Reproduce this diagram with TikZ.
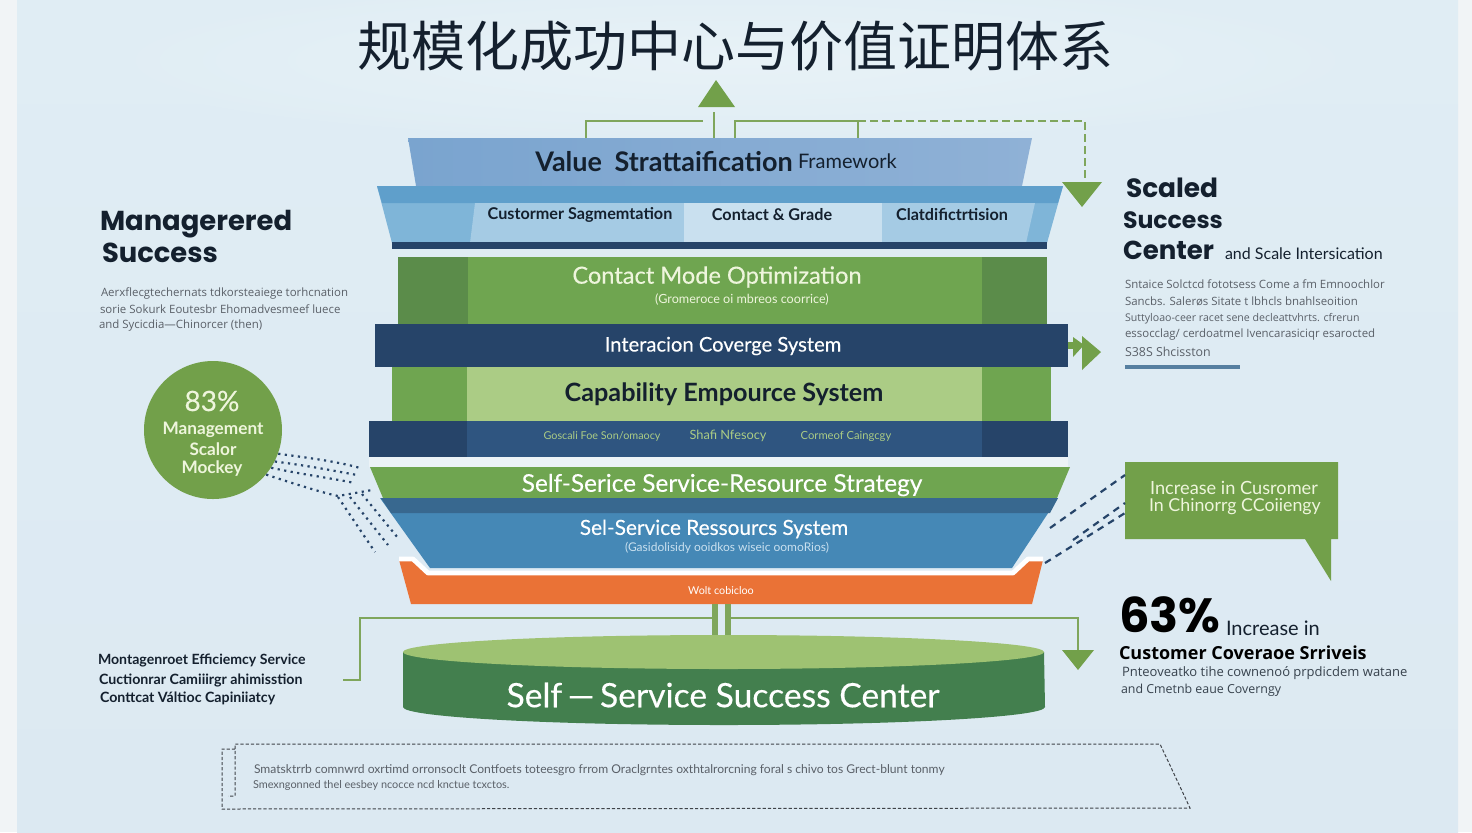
\documentclass[tikz,border=0pt]{standalone}
\usepackage{fontspec}
\setmainfont{Lato}
\newfontfamily\medf[FakeBold=0.3]{Lato}
\newfontfamily\cjk{Noto Sans CJK SC}
\newfontfamily\headf{Poppins}
\newfontfamily\bodyf{Open Sans}
\definecolor{bg}{HTML}{DCE9F2}
\definecolor{bgtop}{HTML}{E0EDF4}
\definecolor{blob}{HTML}{E8F2F7}
\definecolor{strip}{HTML}{F1F4F6}
\definecolor{leaf}{HTML}{72A04A}
\definecolor{leafb}{HTML}{6FA550}
\definecolor{leafd}{HTML}{5B8C4A}
\definecolor{leafl}{HTML}{ABCC85}
\definecolor{linegreen}{HTML}{7FA65C}
\definecolor{navy}{HTML}{264469}
\definecolor{navyb}{HTML}{2F5580}
\definecolor{bluem}{HTML}{4588B6}
\definecolor{blued}{HTML}{38688F}
\definecolor{bandb}{HTML}{5F9FCB}
\definecolor{pale}{HTML}{A5CBE4}
\definecolor{paler}{HTML}{C9E0EF}
\definecolor{side}{HTML}{7FB5D8}
\definecolor{valuel}{HTML}{7AA4CF}
\definecolor{valuer}{HTML}{8FB1D6}
\definecolor{orng}{HTML}{EA7236}
\definecolor{cyld}{HTML}{437F4E}
\definecolor{cylt}{HTML}{9EC272}
\definecolor{ink}{HTML}{14202E}
\definecolor{greytxt}{HTML}{5A6068}
\definecolor{cream}{HTML}{EEF5DC}
\definecolor{gapw}{HTML}{ECF3F7}
\tikzset{
  x=0.5pt,y=-0.5pt,
  lbl/.style={inner sep=0pt,outer sep=0pt,anchor=west,text=ink},
  clbl/.style={inner sep=0pt,outer sep=0pt,anchor=center,text=white},
  head/.style={lbl,font=\headf\bfseries\fontsize{13.7}{15}\selectfont},
  body/.style={lbl,text=greytxt,font=\bodyf\fontsize{5.72}{7}\selectfont},
  conn/.style={draw=linegreen,line width=1pt},
  tri/.style={fill=leaf,draw=none},
  dots/.style={draw=navy,line width=1.1pt,dash pattern=on 1.1pt off 2.2pt},
  dashtwo/.style={draw=navy,line width=1.1pt,dash pattern=on 3.4pt off 2.8pt},
}
\begin{document}
\begin{tikzpicture}
\useasboundingbox (0,0) rectangle (1472,832);
% background
\fill[strip] (0,0) rectangle (1472,832);
\shade[top color=bgtop,bottom color=bg] (17,0) rectangle (1458,832);
\shade[inner color=blob,outer color=bgtop] (735,60) ellipse[x radius=320pt,y radius=40pt];

% title
\node[clbl,text=ink,font=\cjk\fontsize{27}{27}\selectfont] (title) at (735,46) {规模化成功中心与价值证明体系};

% connectors at top
\coordinate (vl) at (586,138); \coordinate (vlt) at (586,121); \coordinate (vle) at (703,121);
\coordinate (vs) at (714,138); \coordinate (vst) at (714,112);
\coordinate (vr) at (735,138); \coordinate (vrt) at (735,121); \coordinate (vm) at (858,121); \coordinate (vmb) at (858,138);
\coordinate (vd) at (1085,121); \coordinate (vdb) at (1085,183);
\draw[conn] (vl) -- (vlt) -- (vle);
\draw[conn] (vs) -- (vst);
\draw[conn] (vr) -- (vrt) -- (vm) -- (vmb);
\draw[conn,dash pattern=on 4pt off 2pt] (vm) -- (vd) -- (vdb);
\fill[tri] (698,107) -- (716,80) -- (735,107) -- cycle;
\fill[tri] (1062,182) -- (1102,182) -- (1082,207) -- cycle;

% value layer
\shade[left color=valuel,right color=valuer] (408,138) -- (1032,138) -- (1022,186) -- (416,186) -- cycle;
\node[clbl,text=ink,font=\fontsize{13.5}{14}\selectfont\bfseries] (value) at (664,162) {Value\hspace{3pt} Strattaification};
\node[lbl,font=\fontsize{10}{11}\selectfont] (frame) at (798,161) {Framework};

% segmentation layer
\fill[side] (377,186) -- (1063,186) -- (1047,243) -- (392,243) -- cycle;
\fill[bandb] (377,186) -- (1063,186) -- (1058,203) -- (382,203) -- cycle;
\fill[pale] (475,203) -- (684,203) -- (684,243) -- (470,243) -- cycle;
\fill[paler] (684,203) -- (882,203) -- (882,243) -- (684,243) -- cycle;
\fill[pale] (882,203) -- (1035,203) -- (1026,243) -- (882,243) -- cycle;
\fill[navy] (392,242) rectangle (1047,249);
\node[clbl,text=ink,font=\fontsize{8.1}{9}\selectfont\bfseries] (seg1) at (580,215) {Custormer Sagmemtation};
\node[clbl,text=ink,font=\fontsize{8.1}{9}\selectfont\bfseries] (seg2) at (772,215) {Contact \& Grade};
\node[clbl,text=ink,font=\fontsize{8.1}{9}\selectfont\bfseries] (seg3) at (952,215) {Clatdifictrtision};

% contact layer
\fill[leafd] (398,257) rectangle (1047,324);
\fill[leafb] (468,257) rectangle (982,324);
\node[clbl,text=cream,font=\medf\fontsize{11.8}{12}\selectfont] (contact) at (717,277) {Contact Mode Optimization};
\node[clbl,text=cream,font=\fontsize{6.3}{7}\selectfont] (contactsub) at (742,300) {(Gromeroce oi mbreos coorrice)};

% interaction layer
\fill[navy] (375,324) rectangle (1068,367);
\node[clbl,font=\medf\fontsize{10.1}{11}\selectfont] (inter) at (723,346) {Interacion Coverge System};
\fill[tri] (1068,342) rectangle (1076,349);
\fill[tri] (1073,337) -- (1084,345) -- (1073,357) -- cycle;
\fill[tri] (1082,336) -- (1101,352) -- (1082,370) -- cycle;

% capability layer
\fill[leafb] (392,367) rectangle (1051,421);
\fill[leafl] (467,367) rectangle (982,421);
\node[clbl,text=ink,font=\fontsize{12.6}{14}\selectfont\bfseries] (capab) at (724,394) {Capability Empource System};

% navy row
\fill[navy] (369,421) rectangle (1068,457);
\fill[navyb] (467,421) rectangle (982,457);
\node[clbl,text=leafl,font=\fontsize{5.4}{6}\selectfont] (row1) at (602,436) {Goscali Foe Son/omaocy};
\node[clbl,text=leafl,font=\fontsize{6.4}{7}\selectfont] (row2) at (728,436) {Shafi Nfesocy};
\node[clbl,text=leafl,font=\fontsize{5.6}{6}\selectfont] (row3) at (846,436) {Cormeof Caingcgy};

% gap
\fill[gapw] (369,457) rectangle (1068,467);

% self-service strategy
\fill[leafb] (370,467) -- (1070,467) -- (1057,498) -- (383,498) -- cycle;
\node[clbl,font=\medf\fontsize{12.2}{13}\selectfont] (strat) at (722,485) {Self-Serice Service-Resource Strategy};

% self-service resource
\fill[bluem] (380,498) -- (1058,498) -- (1012,568) -- (430,568) -- cycle;
\fill[blued] (381,498) -- (1058,498) -- (1050,513) -- (391,513) -- cycle;
\node[clbl,font=\medf\fontsize{10.4}{11}\selectfont] (res) at (714,529) {Sel-Service Ressourcs System};
\node[clbl,font=\fontsize{6}{7}\selectfont,text=paler] (ressub) at (727,548) {(Gasidolisidy ooidkos wiseic oomoRios)};

% orange
\fill[orng] (399,560) -- (414,560) -- (428,574) -- (1013,574) -- (1028,560) -- (1043,560) -- (1032,604) -- (411,604) -- cycle;
\draw[white,line width=2.4pt,line join=round] (399,559) -- (413,559) -- (428,573) -- (1013,573) -- (1028,559) -- (1043,559);
\node[clbl,font=\fontsize{5.4}{6}\selectfont] (orlab) at (721,591) {Wolt cobicloo};

% cylinder
\coordinate (cyltopl) at (715,636); \coordinate (cyltopr) at (728,636);
\coordinate (orl) at (715,604); \coordinate (orr) at (728,604);
\draw[draw=linegreen,line width=2.6pt] (orl) -- (cyltopl);
\draw[draw=linegreen,line width=2.6pt] (orr) -- (cyltopr);
\coordinate (bl0) at (713,618); \coordinate (bl1) at (360,618); \coordinate (bl2) at (360,680); \coordinate (bl3) at (343,680);
\coordinate (br0) at (731,618); \coordinate (br1) at (1078,618); \coordinate (br2) at (1078,652);
\draw[conn] (bl0) -- (bl1) -- (bl2) -- (bl3);
\draw[conn] (br0) -- (br1) -- (br2);
\fill[tri] (1062,650) -- (1094,650) -- (1078,670) -- cycle;
\fill[cyld] (403,652) -- (403,707) arc[start angle=180,end angle=360,x radius=160.5pt,y radius=9pt] -- (1044,652) -- cycle;
\fill[cylt] (723.5,652) ellipse[x radius=160.25pt,y radius=8.5pt];
\node[clbl,font=\medf\fontsize{16.8}{18}\selectfont] (cyl) at (723,695) {Self\,—\,Service Success Center};

% left column
\node[head] (mg1) at (100,224) {Managerered};
\node[head] (mg2) at (102,253) {Success};
\node[body] (lp1) at (101,293) {Aerxflecgtechernats tdkorsteaiege torhcnation};
\node[body] (lp2) at (100,309) {sorie Sokurk Eoutesbr Ehomadvesmeef luece};
\node[body] (lp3) at (99,326) {and Sycicdia—Chinorcer (then)};
\node[circle,fill=leaf,minimum size=69pt,inner sep=0pt] (kpi) at (213,430) {};
\node[clbl,text=cream,font=\medf\fontsize{14}{14}\selectfont] (kp1) at (212,401) {83\%};
\node[clbl,text=cream,font=\fontsize{8.6}{9}\selectfont\bfseries] (kp2) at (213,430) {Management};
\node[clbl,text=cream,font=\fontsize{8.6}{9}\selectfont\bfseries] (kp3) at (213,449) {Scalor};
\node[clbl,text=cream,font=\fontsize{8.6}{9}\selectfont\bfseries] (kp4) at (212,469) {Mockey};
\draw[dots] (kpi.-20) .. controls (310,458) and (340,462) .. (360,468);
\draw[dots] (kpi.-27) .. controls (310,466) and (335,471) .. (357,475);
\draw[dots] (kpi.-33) .. controls (300,474) and (330,478) .. (355,483);
\draw[dots] (kpi.-40) .. controls (295,484) and (320,492) .. (338,496) -- (372,490);
\draw[dots] (338,497) -- (375,552);
\draw[dots] (350,497) -- (388,545);
\draw[dots] (362,494) -- (398,538);

% right column
\node[head,font=\headf\bfseries\fontsize{13.2}{15}\selectfont] (sc1) at (1126,188) {Scaled};
\node[head,font=\headf\bfseries\fontsize{11.8}{15}\selectfont] (sc2) at (1123,220) {Success};
\node[head,font=\headf\bfseries\fontsize{13}{15}\selectfont] (sc3) at (1123,250) {Center};
\node[lbl,font=\fontsize{8}{9}\selectfont] (sc4) at (1225,254) {and Scale Intersication};
\node[body] (rp1) at (1125,284) {Sntaice Solctcd fototsess Come a fm Emnoochlor};
\node[body] (rp2) at (1125,301) {Sancbs. Salerøs Sitate t lbhcls bnahlseoition};
\node[body,font=\bodyf\fontsize{5.3}{7}\selectfont] (rp3) at (1125,319) {Suttyloao-ceer racet sene decleattvhrts. cfrerun};
\node[body] (rp4) at (1125,335) {essocclag/ cerdoatmel Ivencarasiciqr esarocted};
\node[body,font=\bodyf\fontsize{6.2}{7}\selectfont] (rp5) at (1125,352) {S38S Shcisston};
\fill[blued!85!white] (1125,365) rectangle (1240,369);

% callout
\fill[leaf] (1125,462) -- (1338,462) -- (1338,539) -- (1331,539) -- (1331,581) -- (1305,539) -- (1125,539) -- cycle;
\coordinate (co1) at (1125,475); \coordinate (co2) at (1125,503); \coordinate (co3) at (1125,513);
\coordinate (fu1) at (1050,528); \coordinate (fu2) at (1073,540); \coordinate (fu3) at (1045,563);
\draw[dashtwo] (fu1) -- (co1);
\draw[dashtwo] (fu2) -- (co2);
\draw[dashtwo] (fu3) -- (co3);
\node[clbl,text=cream,font=\fontsize{9.1}{10}\selectfont] (cal1) at (1234,488) {Increase in Cusromer};
\node[clbl,text=cream,font=\fontsize{8.9}{10}\selectfont] (cal2) at (1235,507) {In Chinorrg CCoiiengy};

% 63%
\node[lbl,font=\headf\bfseries\fontsize{24}{24}\selectfont,text=black,text height=16pt,text depth=0pt] (p63) at (1119,616) {63\%};
\node[lbl,font=\fontsize{10}{11}\selectfont] (p63b) at (1226,628) {Increase in};
\node[lbl,font=\bodyf\bfseries\fontsize{9}{10}\selectfont,text=black] (p63c) at (1119,653) {Customer Coveraoe Srriveis};
\node[body,text=ink!85!white,font=\bodyf\fontsize{6.5}{7}\selectfont] (p63d) at (1122,673) {Pnteoveatko tihe cownenoó prpdicdem watane};
\node[body,text=ink!85!white,font=\bodyf\fontsize{6.2}{7}\selectfont] (p63e) at (1121,690) {and Cmetnb eaue Coverngy};

% left bottom
\node[lbl,font=\bfseries\fontsize{7.05}{8}\selectfont] (lb1) at (98,661) {Montagenroet Efficiemcy Service};
\node[lbl,font=\bfseries\fontsize{7.1}{8}\selectfont] (lb2) at (99,680) {Cuctionrar Camiiirgr ahimisstion};
\node[lbl,font=\bfseries\fontsize{7.1}{8}\selectfont] (lb3) at (100,698) {Conttcat Váltioc Capiniiatcy};

% dashed note box
\draw[greytxt!70!black,line width=0.5pt,dash pattern=on 1.6pt off 1pt] (235,749) -- (222,749) -- (222,809) -- (1190,808) -- (1160,744) -- (235,744) -- (235,796) -- (228,796);
\node[lbl,text=greytxt,font=\fontsize{6.05}{7}\selectfont] (nt1) at (254,770) {Smatsktrrb comnwrd oxrtimd orronsoclt Contfoets toteesgro frrom Oraclgrntes oxthtalrorcning foral s chivo tos Grect-blunt tonmy};
\node[lbl,text=greytxt,font=\fontsize{5.45}{6}\selectfont] (nt2) at (253,785) {Smexngonned thel eesbey ncocce ncd knctue tcxctos.};
\end{tikzpicture}
\end{document}
